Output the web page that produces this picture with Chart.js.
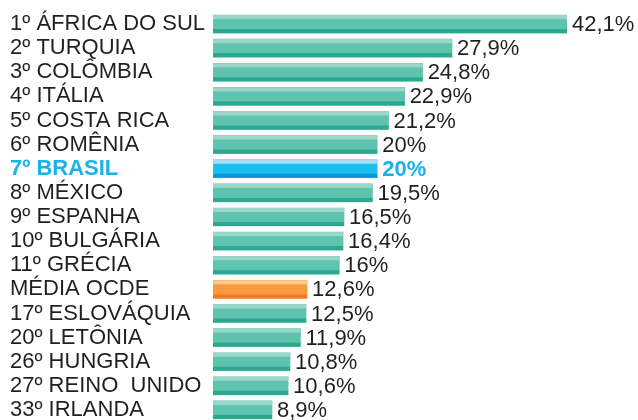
<!DOCTYPE html>
<html lang="pt">
<head>
    <meta charset="UTF-8">
    <title>Ranking</title>
    <script src="https://cdn.jsdelivr.net/npm/chart.js"></script>
    <style>
        html, body { margin: 0; padding: 0; background: #fff; overflow: hidden; }
    </style>
</head>
<body>
    <canvas id="rankChart" width="638" height="424"></canvas>
    <script>
        // data
        const countries = ['1º ÁFRICA DO SUL', '2º TURQUIA', '3º COLÔMBIA', '4º ITÁLIA', '5º COSTA RICA',
            '6º ROMÊNIA', '7º BRASIL', '8º MÉXICO', '9º ESPANHA', '10º BULGÁRIA', '11º GRÉCIA',
            'MÉDIA OCDE', '17º ESLOVÁQUIA', '20º LETÔNIA', '26º HUNGRIA', '27º REINO  UNIDO', '33º IRLANDA'];
        const values = [42.1, 27.9, 24.8, 22.9, 21.2, 20, 20, 19.5, 16.5, 16.4, 16, 12.6, 12.5, 11.9, 10.8, 10.6, 8.9];
        const brazilIndex = 6;
        const averageIndex = 11;

        const FONT = '"Liberation Sans", Arial, sans-serif';
        const TEXT = '#231f20';
        const BLUE_TEXT = '#19b2ea';

        function palette(i) {
            if (i === brazilIndex) return { light: '#a9ddf5', mid: '#1bc0f1', dark: '#0498d7' };
            if (i === averageIndex) return { light: '#fcc98c', mid: '#f89a3e', dark: '#f17b22' };
            return { light: '#9bd6c9', mid: '#5fc4ae', dark: '#2ba88e' };
        }

        function fmt(v) {
            return String(v).replace('.', ',') + '%';
        }

        // light top stripe, dark bottom stripe and the value after each bar
        const barDecor = {
            id: 'barDecor',
            afterDatasetsDraw(chart) {
                const { ctx, chartArea } = chart;
                const meta = chart.getDatasetMeta(0);
                ctx.save();
                ctx.beginPath();
                ctx.rect(chartArea.left, chartArea.top, chartArea.right - chartArea.left, chartArea.bottom - chartArea.top);
                ctx.clip();
                meta.data.forEach((bar, i) => {
                    const p = bar.getProps(['x', 'y', 'base', 'height'], true);
                    const top = p.y - p.height / 2;
                    const w = p.x - p.base;
                    const pal = palette(i);
                    ctx.fillStyle = pal.light;
                    ctx.fillRect(p.base, top, w, 4);
                    ctx.fillStyle = pal.dark;
                    ctx.fillRect(p.base, top + p.height - 4, w, 4);
                });
                ctx.restore();

                ctx.save();
                ctx.textBaseline = 'middle';
                ctx.textAlign = 'left';
                meta.data.forEach((bar, i) => {
                    const isBr = i === brazilIndex;
                    ctx.font = (isBr ? 'bold ' : '') + '22px ' + FONT;
                    ctx.fillStyle = isBr ? BLUE_TEXT : TEXT;
                    const x = Math.min(bar.x, chartArea.right) + 5;
                    ctx.fillText(fmt(values[i]), x, bar.y + 1);
                });
                ctx.restore();
            }
        };

        const ctx = document.getElementById('rankChart').getContext('2d');
        new Chart(ctx, {
            type: 'bar',
            data: {
                labels: countries,
                datasets: [{
                    data: values,
                    backgroundColor: values.map((v, i) => palette(i).mid),
                    borderWidth: 0,
                    barThickness: 18
                }]
            },
            options: {
                indexAxis: 'y',
                responsive: false,
                animation: false,
                layout: { padding: { left: 10, right: 71, top: 12, bottom: 2 } },
                plugins: {
                    legend: { display: false },
                    tooltip: { enabled: false }
                },
                scales: {
                    x: {
                        display: false,
                        min: 2.67,
                        max: 40.04
                    },
                    y: {
                        afterFit: (scale) => {
                            scale.width = 203;
                            scale.paddingTop = 0;
                            scale.paddingBottom = 0;
                        },
                        grid: { display: false },
                        border: { display: false },
                        ticks: {
                            autoSkip: false,
                            crossAlign: 'far',
                            padding: 0,
                            labelOffset: 0,
                            color: (c) => c.index === brazilIndex ? BLUE_TEXT : TEXT,
                            font: (c) => ({
                                family: FONT,
                                size: 22,
                                weight: c.index === brazilIndex ? 'bold' : 'normal'
                            })
                        }
                    }
                }
            },
            plugins: [barDecor]
        });
    </script>
</body>
</html>
